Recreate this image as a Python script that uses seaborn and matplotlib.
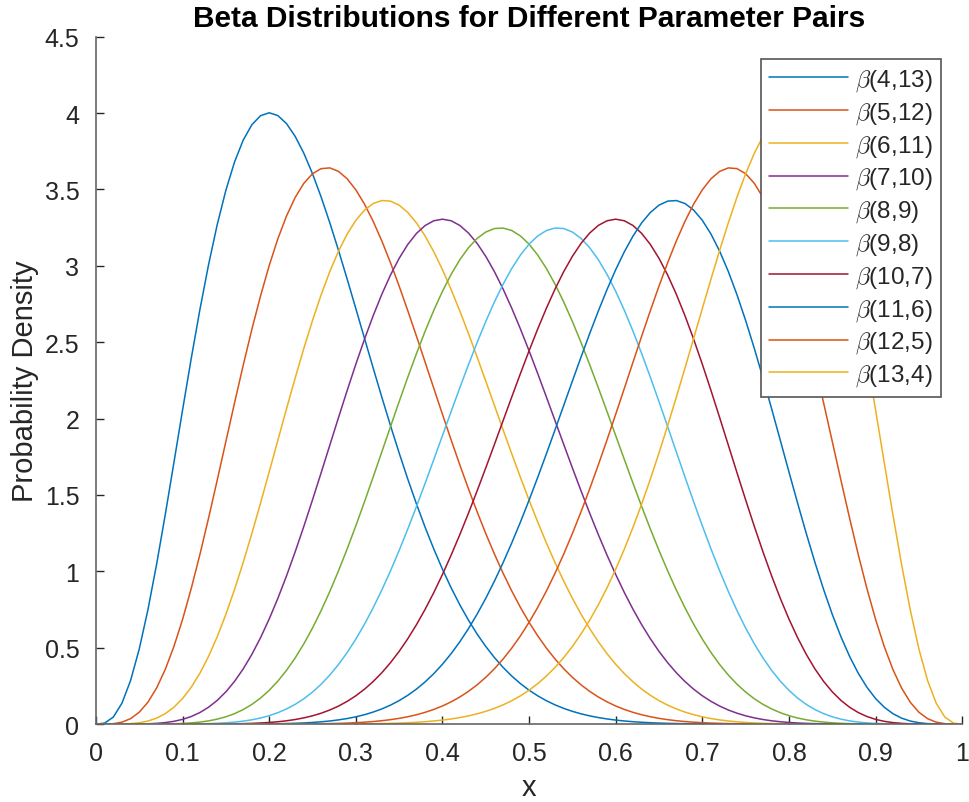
import math
import numpy as np
import pandas as pd
import matplotlib
matplotlib.use("Agg")
import matplotlib.pyplot as plt
import seaborn as sns
from matplotlib.ticker import FuncFormatter

# Parameter pairs of the beta distributions
alphas = [4, 5, 6, 7, 8, 9, 10, 11, 12, 13]
betas = [13, 12, 11, 10, 9, 8, 7, 6, 5, 4]
labels = [r"$\beta$(%d,%d)" % (a, b) for a, b in zip(alphas, betas)]
colors = ["#0072BD", "#D95319", "#EDB120", "#7E2F8E", "#77AC30",
          "#4DBEEE", "#A2142F", "#0072BD", "#D95319", "#EDB120"]
x_ticks = [0, 0.1, 0.2, 0.3, 0.4, 0.5, 0.6, 0.7, 0.8, 0.9, 1]
y_ticks = [0, 0.5, 1, 1.5, 2, 2.5, 3, 3.5, 4, 4.5]

x = np.linspace(0, 1, 101)
rows = []
for a, b, lab in zip(alphas, betas, labels):
    norm = math.gamma(a + b) / (math.gamma(a) * math.gamma(b))
    y = norm * x ** (a - 1) * (1 - x) ** (b - 1)
    rows.append(pd.DataFrame({"x": x, "y": y, "label": lab}))
df = pd.concat(rows, ignore_index=True)

sns.set_theme(style="ticks")
plt.rcParams["font.family"] = ["Liberation Sans", "DejaVu Sans"]
plt.rcParams["mathtext.fontset"] = "cm"

fig = plt.figure(figsize=(9.69, 8.03), dpi=100)
ax = fig.add_axes([0.099, 0.097, 0.894, 0.856])

sns.lineplot(data=df, x="x", y="y", hue="label", hue_order=labels,
             palette=colors, linewidth=1.1, ax=ax, legend=True)

ax.set_xlim(0, 1)
ax.set_ylim(0, 4.5)
ax.set_xticks(x_ticks)
ax.set_yticks(y_ticks)
fmt = FuncFormatter(lambda v, p: "%g" % v)
ax.xaxis.set_major_formatter(fmt)
ax.yaxis.set_major_formatter(fmt)
ax.tick_params(axis="both", direction="in", length=6, width=1, colors="#262626",
               labelsize=18, labelcolor="#262626")
ax.tick_params(axis="x", pad=12)
ax.tick_params(axis="y", pad=12)
for s in ["top", "right"]:
    ax.spines[s].set_visible(False)
for s in ["left", "bottom"]:
    ax.spines[s].set_color("#666666")
    ax.spines[s].set_linewidth(1.2)

ax.set_xlabel("x", fontsize=21, color="#262626", labelpad=6)
ax.set_ylabel("Probability Density", fontsize=21, color="#262626", labelpad=4)
ax.set_title("Beta Distributions for Different Parameter Pairs",
             fontsize=21.5, fontweight="bold", color="black", y=1.015, pad=0)

leg = ax.legend(loc="upper right", bbox_to_anchor=(0.976, 0.968),
                fontsize=17.5, frameon=True, fancybox=False,
                handlelength=3.25, handletextpad=0.3, labelspacing=0.29,
                borderpad=0.35, borderaxespad=0)
leg.get_frame().set_edgecolor("#555555")
leg.get_frame().set_linewidth(1.2)
leg.get_frame().set_alpha(1)

fig.savefig("out.png", dpi=100)
